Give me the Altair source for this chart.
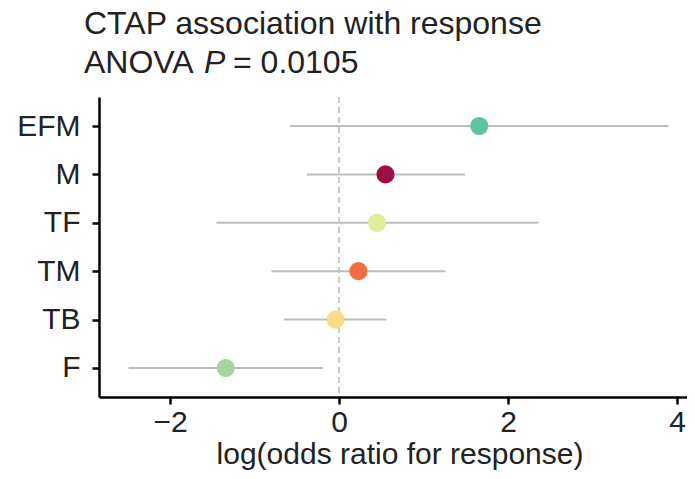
import altair as alt
import pandas as pd

categories = ["EFM", "M", "TF", "TM", "TB", "F"]
estimates = [1.66, 0.55, 0.45, 0.23, -0.04, -1.34]
lower = [-0.58, -0.38, -1.45, -0.80, -0.65, -2.49]
upper = [3.90, 1.49, 2.36, 1.26, 0.56, -0.19]
colors = ["#5fc2a0", "#9e0f47", "#e2ec9a", "#f26b43", "#f9dc8a", "#a9d3a2"]
x_ticks = [-2, 0, 2, 4]
title_line1 = "CTAP association with response"
title_line2 = ["ANOVA", "P", "= 0.0105"]
x_title = "log(odds ratio for response)"

FONT = "Liberation Sans"
TXT = "#222222"

df = pd.DataFrame({"cat": categories, "est": estimates, "lo": lower, "hi": upper})

xscale = alt.Scale(domain=[-2.84, 4.118], nice=False, zero=False)
yscale = alt.Scale(type="point", domain=categories, padding=0.6)

xaxis = alt.Axis(values=x_ticks, title=None, labelPadding=3)
yaxis = alt.Axis(title=None, labelPadding=12)

zero = alt.Chart(pd.DataFrame({"x": [0]})).mark_rule(
    color="#aaaaaa", strokeWidth=1.2, strokeDash=[6, 4]
).encode(x=alt.X("x:Q", scale=xscale, axis=xaxis))

bars = alt.Chart(df).mark_rule(color="#bdbdbd", strokeWidth=2).encode(
    x=alt.X("lo:Q", scale=xscale, axis=xaxis),
    x2="hi:Q",
    y=alt.Y("cat:N", scale=yscale, axis=yaxis, sort=categories),
)

points = alt.Chart(df).mark_circle(size=330, opacity=1).encode(
    x=alt.X("est:Q", scale=xscale, axis=xaxis),
    y=alt.Y("cat:N", scale=yscale, axis=yaxis, sort=categories),
    color=alt.Color("cat:N", scale=alt.Scale(domain=categories, range=colors), legend=None),
)


def label(text, x, y, size=32, align="left", style="normal"):
    return alt.Chart(pd.DataFrame({"t": [text]})).mark_text(
        align=align, baseline="alphabetic", font=FONT, fontSize=size,
        fontStyle=style, color=TXT
    ).encode(text="t:N", x=alt.value(x), y=alt.value(y))


t1 = label(title_line1, -15, -63)
t2a = label(title_line2[0], -15, -24)
t2b = label(title_line2[1], 105, -24, style="italic")
t2c = label(title_line2[2], 134, -24)
xt = label(x_title, 301, 367, size=30, align="center")

chart = alt.layer(zero, bars, points, t1, t2a, t2b, t2c, xt).properties(
    width=588,
    height=300,
    autosize="none",
    padding={"left": 91, "top": 89, "right": 0, "bottom": 74},
).configure_view(stroke=None).configure_axis(
    grid=False,
    domainColor="black",
    domainWidth=2.5,
    tickColor="black",
    tickWidth=2.5,
    tickSize=7,
    labelFont=FONT,
    labelFontSize=30,
    labelColor=TXT,
)

chart.save("out.html", embed_options={"renderer": "svg", "actions": False})
